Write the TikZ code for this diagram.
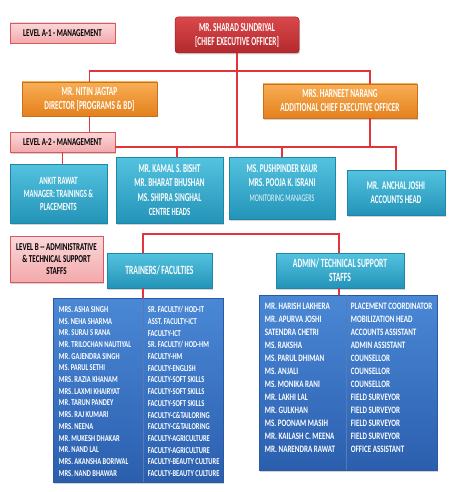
\documentclass[tikz,border=0pt]{standalone}
\usepackage{fontspec}
\usepackage{tikz}
\usetikzlibrary{shadows, calc}
\newfontfamily\orgfont[FakeStretch=0.6]{Carlito}
\newfontfamily\lblfont[FakeStretch=0.67]{Carlito}
\newfontfamily\listfont[FakeStretch=0.72]{Carlito}
\definecolor{ceotop}{HTML}{D9484B}
\definecolor{ceobot}{HTML}{B3292D}
\definecolor{ceoline}{HTML}{9E2226}
\definecolor{dirtop}{HTML}{F8AE55}
\definecolor{dirbot}{HTML}{E4801C}
\definecolor{dirline}{HTML}{C8701A}
\definecolor{mgrtop}{HTML}{54C3E0}
\definecolor{mgrbot}{HTML}{2393B8}
\definecolor{mgrline}{HTML}{1F86A8}
\definecolor{lvltop}{HTML}{FBD8DA}
\definecolor{lvlbot}{HTML}{F3A9AC}
\definecolor{lvlline}{HTML}{D9585C}
\definecolor{listtop}{HTML}{4A88D6}
\definecolor{listbot}{HTML}{2B5FAE}
\definecolor{listline}{HTML}{2A5AA0}
\definecolor{linkred}{HTML}{E2343A}

\begin{document}
\begin{tikzpicture}[x=1pt, y=-1pt, every node/.style={align=center, inner sep=1pt},
  orgbox/.style={rectangle, draw=#1, line width=0.5pt, text=white,
    drop shadow={opacity=0.35, shadow xshift=1.2pt, shadow yshift=-1.5pt}},
  ceobox/.style={orgbox=ceoline, top color=ceotop, bottom color=ceobot, rounded corners=3pt,
    font=\orgfont\bfseries\fontsize{12.2}{14}\selectfont},
  dirbox/.style={orgbox=dirline, top color=dirtop, bottom color=dirbot,
    font=\orgfont\bfseries\fontsize{12.2}{14}\selectfont},
  mgrbox/.style={orgbox=mgrline, top color=mgrtop, bottom color=mgrbot,
    font=\orgfont\bfseries\fontsize{12}{14.5}\selectfont},
  levelbox/.style={orgbox=lvlline, top color=lvltop, bottom color=lvlbot, text=black,
    font=\lblfont\bfseries\fontsize{10.5}{12}\selectfont},
  listbox/.style={orgbox=listline, top color=listtop, bottom color=listbot},
  listtext/.style={align=left, text=white, anchor=north west},
  conn/.style={draw=linkred, line width=1.1pt},
  divider/.style={draw=listline!80!white, line width=0.6pt}]
  \useasboundingbox (0,0) rectangle (451,492);

  \node[levelbox, minimum width=105, minimum height=20] (lvlAone) at (62.5,33) {LEVEL A-1 - MANAGEMENT};
  \node[ceobox, minimum width=124, minimum height=36] (ceo) at (237,35) {MR. SHARAD SUNDRIYAL\\{[}CHIEF EXECUTIVE OFFICER{]}};
  \node[dirbox, minimum width=135, minimum height=34] (nitin) at (89.5,99) {MR. NITIN JAGTAP\\DIRECTOR [PROGRAMS \& BD]};
  \node[dirbox, minimum width=154, minimum height=34] (harneet) at (340,101) {MRS. HARNEET NARANG\\ADDITIONAL CHIEF EXECUTIVE OFFICER};
  \node[levelbox, minimum width=105, minimum height=20] (lvlAtwo) at (62.5,142) {LEVEL A-2 - MANAGEMENT};

  \node[mgrbox, minimum width=97, minimum height=59, font=\orgfont\bfseries\fontsize{11}{13}\selectfont] (ankit) at (58.5,193.5) {ANKIT RAWAT\\MANAGER: TRAININGS \&\\PLACEMENTS};
  \node[mgrbox, minimum width=107, minimum height=66] (kamal) at (169.5,190) {MR. KAMAL S. BISHT\\MR. BHARAT BHUSHAN\\MS. SHIPRA SINGHAL\\{\fontsize{11}{13}\selectfont CENTRE HEADS}};
  \node[mgrbox, minimum width=106, minimum height=62] (pushp) at (282,188) {MS. PUSHPINDER KAUR\\MRS. POOJA K. ISRANI\\{\mdseries\fontsize{10.2}{13}\selectfont\color{white!88!mgrtop}MONITORING MANAGERS}\\[-4pt]\mbox{}};
  \node[mgrbox, minimum width=98, minimum height=45, font=\orgfont\bfseries\fontsize{11.8}{14}\selectfont] (anchal) at (396,192.5) {MR.\ \ ANCHAL JOSHI\\ACCOUNTS HEAD};

  \node[levelbox, minimum width=93, minimum height=46] (lvlB) at (56.5,259) {LEVEL B -- ADMINISTRATIVE\\\& TECHNICAL SUPPORT\\STAFFS};
  \node[mgrbox, minimum width=105, minimum height=35, font=\orgfont\bfseries\fontsize{12.6}{14}\selectfont] (trainers) at (159.5,270.5) {TRAINERS/ FACULTIES};
  \node[mgrbox, minimum width=128, minimum height=35, font=\orgfont\bfseries\fontsize{12.6}{14}\selectfont] (admin) at (340,270.5) {ADMIN/ TECHNICAL SUPPORT\\STAFFS};

  \node[listbox, minimum width=170, minimum height=184] (trainlist) at (138,390) {};
  \node[listbox, minimum width=178, minimum height=175] (adminlist) at (348,382.5) {};

  \coordinate (harjoin) at (370,71);
  \coordinate (midbus) at (237,147);
  \coordinate (kamaljoin) at (177,147);
  \coordinate (trainjoin) at (143,234);
  \coordinate (adminjoin) at (339,234);

  \draw[conn] (nitin.north) |- (harjoin) -- (harneet.north -| harjoin);
  \draw[conn] (ceo.south) -- (midbus);
  \draw[conn] (nitin.south) -- (nitin.south |- lvlAtwo.north);
  \draw[conn] (harneet.south -| harjoin) -- (harjoin |- midbus);
  \draw[conn] (lvlAtwo.east |- midbus) -- (anchal.north |- midbus) -- (anchal.north);
  \draw[conn] (lvlAtwo.south) -- (lvlAtwo.south |- ankit.north);
  \draw[conn] (kamaljoin) -- (kamal.north -| kamaljoin);
  \draw[conn] (pushp.north |- midbus) -- (pushp.north);
  \draw[conn] (trainers.north -| trainjoin) -- (trainjoin) -- (adminjoin) -- (admin.north -| adminjoin);
  \draw[conn] (trainers.south -| trainjoin) -- (trainlist.north -| trainjoin);
  \draw[conn] (admin.south -| adminjoin) -- (adminlist.north -| adminjoin);

  \draw[divider] (trainlist.north -| trainjoin) -- (trainlist.south -| trainjoin);
  \draw[divider] ([xshift=88]adminlist.north west) -- ([xshift=88]adminlist.south west);

  \begin{scope}[every node/.append style={font=\listfont\bfseries\fontsize{9}{11.7}\selectfont}]
    \node[listtext] (trainnames) at ([shift={(5,7.5)}]trainlist.north west) {MRS. ASHA SINGH\\MS. NEHA SHARMA\\MR. SURAJ S RANA\\MR. TRILOCHAN NAUTIYAL\\MR. GAJENDRA SINGH\\MS. PARUL SETHI\\MRS. RAZIA KHANAM\\MRS. LAXMI KHAIRYAT\\MR. TARUN PANDEY\\MRS. RAJ KUMARI\\MRS. NEENA\\MR. MUKESH DHAKAR\\MR. NAND LAL\\MRS. AKANSHA BORIWAL\\MRS. NAND BHAWAR};
    \node[listtext] (trainroles) at ([shift={(94,7.5)}]trainlist.north west) {SR. FACULTY/ HOD-IT\\ASST. FACULTY-ICT\\FACULTY-ICT\\SR. FACULTY/ HOD-HM\\FACULTY-HM\\FACULTY-ENGLISH\\FACULTY-SOFT SKILLS\\FACULTY-SOFT SKILLS\\FACULTY-SOFT SKILLS\\FACULTY-C\&TAILORING\\FACULTY-C\&TAILORING\\FACULTY-AGRICULTURE\\FACULTY-AGRICULTURE\\FACULTY-BEAUTY CULTURE\\FACULTY-BEAUTY CULTURE};
  \end{scope}
  \begin{scope}[every node/.append style={font=\listfont\bfseries\fontsize{9.8}{13}\selectfont}]
    \node[listtext] (adminnames) at ([shift={(5,7)}]adminlist.north west) {MR. HARISH LAKHERA\\MR. APURVA JOSHI\\SATENDRA CHETRI\\MS. RAKSHA\\MS. PARUL DHIMAN\\MS. ANJALI\\MS. MONIKA RANI\\MR. LAKHI LAL\\MR. GULKHAN\\MS. POONAM MASIH\\MR. KAILASH C. MEENA\\MR. NARENDRA RAWAT};
    \node[listtext] (adminroles) at ([shift={(91,7)}]adminlist.north west) {PLACEMENT COORDINATOR\\MOBILIZATION HEAD\\ACCOUNTS ASSISTANT\\ADMIN ASSISTANT\\COUNSELLOR\\COUNSELLOR\\COUNSELLOR\\FIELD SURVEYOR\\FIELD SURVEYOR\\FIELD SURVEYOR\\FIELD SURVEYOR\\OFFICE ASSISTANT};
  \end{scope}
\end{tikzpicture}
\end{document}
